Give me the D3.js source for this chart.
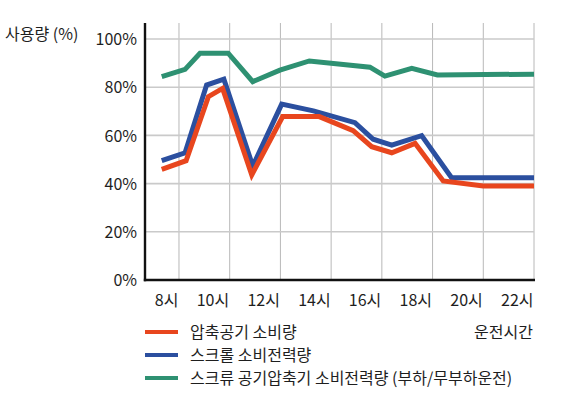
<!DOCTYPE html>
<html>
<head>
<meta charset="utf-8">
<script src="https://cdn.jsdelivr.net/npm/d3@7"></script>
<style>
  body { margin: 0; background: #fff; }
  text { font-family: "Noto Sans CJK KR", "Noto Sans", sans-serif; fill: #1e1e1e; }
</style>
</head>
<body>
<script>
// hours (x) and percent (y)
var airHours   = [7.32, 8.28, 9.16, 9.72, 10.87, 12.09, 13.53, 14.87, 15.6, 16.39, 17.31, 18.42, 20.0, 22.0];
var airValues  = [45.9, 49.5, 76.1, 79.5, 43.6, 67.8, 67.8, 62.0, 55.3, 52.8, 56.7, 41.1, 39.0, 39.0];

var scrollHours  = [7.32, 8.24, 9.09, 9.77, 10.91, 12.05, 13.3, 14.94, 15.66, 16.39, 17.57, 18.75, 22.0];
var scrollValues = [49.5, 52.8, 80.9, 83.3, 47.3, 73.0, 70.2, 65.3, 58.4, 56.0, 59.9, 42.4, 42.4];

var screwHours  = [7.32, 8.24, 8.83, 9.94, 10.91, 11.98, 13.14, 15.53, 16.12, 17.18, 18.19, 22.0];
var screwValues = [84.4, 87.4, 94.1, 94.1, 82.3, 87.1, 90.9, 88.3, 84.6, 87.8, 85.1, 85.4];

var xTicks = [8, 10, 12, 14, 16, 18, 20, 22];
var yTicks = [0, 20, 40, 60, 80, 100];
var seriesNames = ["압축공기 소비량", "스크롤 소비전력량", "스크류 공기압축기 소비전력량 (부하/무부하운전)"];
var colors = ["#e8461e", "#2b4f9f", "#2e9172"];

var width = 571, height = 402;
var plotLeft = 145, plotRight = 534, plotTop = 23, plotBottom = 280;

var svg = d3.select("body").append("svg")
    .attr("width", width)
    .attr("height", height);

var x = d3.scaleLinear().domain([6.66, 22]).range([plotLeft, plotRight]);
var y = d3.scaleLinear().domain([0, 100]).range([plotBottom, 39]);

// grid
svg.append("g").selectAll("line")
  .data(xTicks)
  .enter().append("line")
    .attr("x1", function(d) { return x(d); })
    .attr("x2", function(d) { return x(d); })
    .attr("y1", plotTop)
    .attr("y2", plotBottom)
    .attr("stroke", "#b8b8b8")
    .attr("stroke-width", 1);

svg.append("g").selectAll("line")
  .data(yTicks.slice(1))
  .enter().append("line")
    .attr("x1", plotLeft)
    .attr("x2", plotRight)
    .attr("y1", function(d) { return y(d); })
    .attr("y2", function(d) { return y(d); })
    .attr("stroke", "#cacaca")
    .attr("stroke-width", 1.6);

// lines
var line = d3.line()
    .x(function(d) { return x(d[0]); })
    .y(function(d) { return y(d[1]); });

var series = [
  d3.zip(screwHours, screwValues),
  d3.zip(scrollHours, scrollValues),
  d3.zip(airHours, airValues)
];
var seriesColors = [colors[2], colors[1], colors[0]];

svg.append("g").selectAll("path")
  .data(series)
  .enter().append("path")
    .attr("d", line)
    .attr("fill", "none")
    .attr("stroke", function(d, i) { return seriesColors[i]; })
    .attr("stroke-width", 5)
    .attr("stroke-linejoin", "miter");

// axes
var xAxis = d3.axisBottom(x).tickValues(xTicks).tickSize(0)
    .tickFormat(function(d) { return d + "시"; });
var gx = svg.append("g")
    .attr("transform", "translate(0," + plotBottom + ")")
    .call(xAxis);
gx.select(".domain").remove();
gx.selectAll("text")
    .attr("text-anchor", "end")
    .attr("dx", "-1")
    .attr("y", 26)
    .attr("dy", 0)
    .style("font-size", "16px");

var yAxis = d3.axisLeft(y).tickValues(yTicks).tickSize(0)
    .tickFormat(function(d) { return d + "%"; });
var gy = svg.append("g")
    .attr("transform", "translate(" + plotLeft + ",0)")
    .call(yAxis);
gy.select(".domain").remove();
gy.selectAll("text")
    .attr("x", -8)
    .attr("dy", "0.35em")
    .style("font-size", "16px");

svg.append("line")
    .attr("x1", plotLeft).attr("x2", plotLeft)
    .attr("y1", plotTop).attr("y2", plotBottom + 1.2)
    .attr("stroke", "#111").attr("stroke-width", 2.4);
svg.append("line")
    .attr("x1", plotLeft - 1.2).attr("x2", plotRight + 1)
    .attr("y1", plotBottom).attr("y2", plotBottom)
    .attr("stroke", "#111").attr("stroke-width", 2.4);

svg.append("text")
    .attr("x", 5)
    .attr("y", 40)
    .style("font-size", "16px")
    .text("사용량 (%)");

svg.append("text")
    .attr("x", 533)
    .attr("y", 338)
    .attr("text-anchor", "end")
    .style("font-size", "16px")
    .text("운전시간");

// legend
var legendY = [332, 355, 378];
var legend = svg.append("g").selectAll("g")
  .data(seriesNames)
  .enter().append("g")
    .attr("transform", function(d, i) { return "translate(145," + legendY[i] + ")"; });

legend.append("line")
    .attr("x1", 0).attr("x2", 33)
    .attr("stroke", function(d, i) { return colors[i]; })
    .attr("stroke-width", 4);

legend.append("text")
    .attr("x", 45)
    .attr("dy", "0.35em")
    .style("font-size", "16px")
    .text(function(d) { return d; });
</script>
</body>
</html>
